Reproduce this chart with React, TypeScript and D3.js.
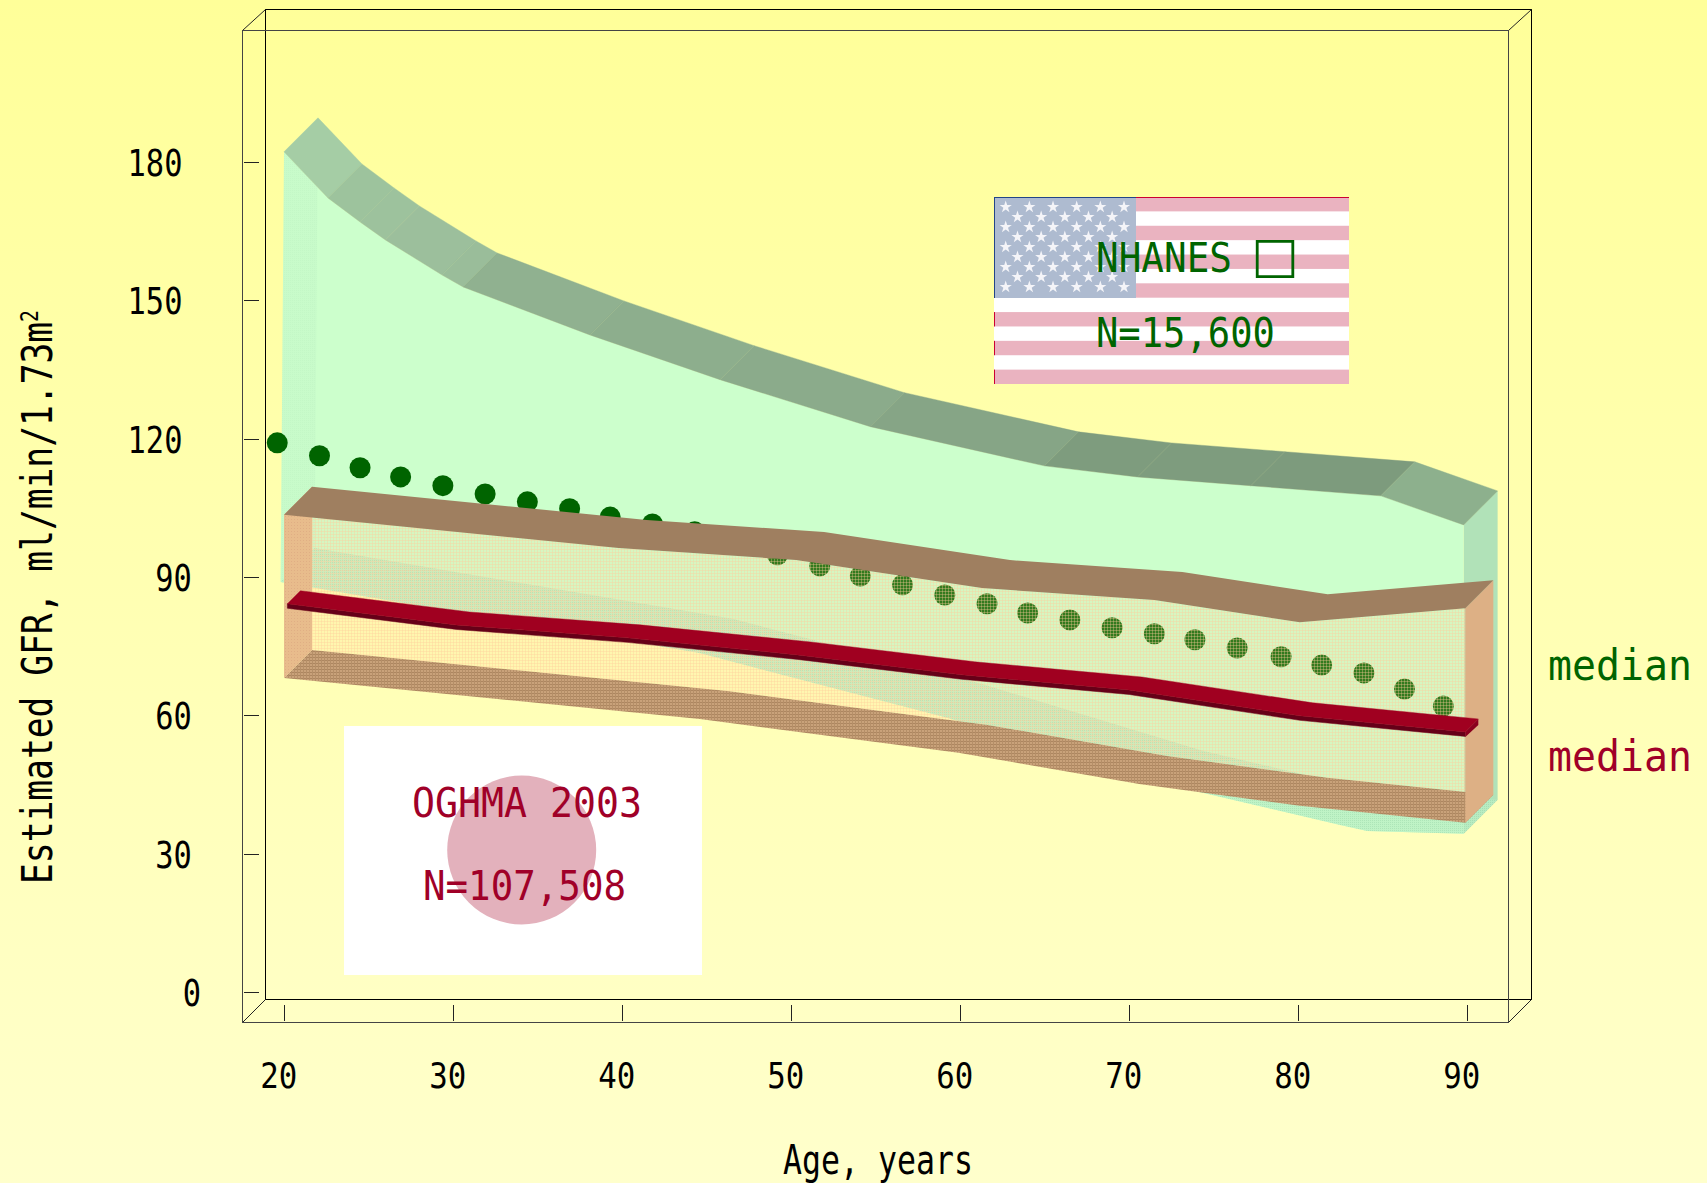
import React from 'react';
import * as d3 from 'd3';

// ---- data (age in years, eGFR in ml/min/1.73m2) ----
const xTicks = [20, 30, 40, 50, 60, 70, 80, 90];
const yTicks = [0, 30, 60, 90, 120, 150, 180];

const nhanesUpperAge = [20, 22.6, 24.5, 26, 29.35, 30.6, 38.1, 45.8, 54.7, 65, 70.5, 77.2, 84.9, 89.8];
const nhanesUpperGfr = [182.2, 172.2, 167, 163.1, 155.5, 152.9, 142.5, 132.8, 122.6, 114.1, 111.7, 109.8, 107.6, 101.3];
const nhanesLowerAge = [19.8, 44.6, 59.3, 72.4, 82.5, 84.1, 89.8];
const nhanesLowerGfr = [88.9, 73.5, 59.4, 44.9, 36.2, 34.9, 34.3];

const oghmaUpperAge = [20, 39.8, 50.3, 61.3, 71.5, 80.1, 89.9];
const oghmaUpperGfr = [103.5, 96.3, 93.7, 87.6, 85, 80.2, 83.2];
const oghmaLowerAge = [20, 44.6, 59.9, 70.6, 80.1, 89.9];
const oghmaLowerGfr = [68.1, 59.2, 51.9, 45.1, 40.4, 36.7];

const oghmaMedianAge = [20.2, 30.2, 40.3, 50.4, 60.1, 70, 80.1, 89.9];
const oghmaMedianGfr = [84.2, 79.6, 76.8, 73.1, 68.8, 65.5, 59.9, 56.4];

const nhanesMedianAge = [19.6, 22.1, 24.5, 26.9, 29.4, 31.9, 34.4, 36.9, 39.3, 41.8, 44.3, 46.8, 49.2, 51.7, 54.1, 56.6, 59.1, 61.6, 64, 66.5, 69, 71.5, 73.9, 76.4, 79, 81.4, 83.9, 86.3, 88.6];
const nhanesMedianGfr = [119.1, 116.3, 113.7, 111.7, 109.8, 108, 106.3, 104.8, 103, 101.5, 99.8, 97.2, 94.8, 92.4, 90.2, 88.3, 86.1, 84.2, 82.2, 80.7, 79, 77.7, 76.4, 74.6, 72.7, 70.9, 69.2, 65.7, 62];

// ---- styles ----
const greenRibbon = ['#A5CDA5', '#9DC39D', '#9DC29D', '#9CBF9C', '#9ABD9A', '#90B190', '#8DAE8D', '#8BAB8B', '#86A586', '#7E9C7E', '#7E9C7E', '#7D9B7D', '#8DB08D'];
const FONT = '"DejaVu Sans Mono", monospace';
const GREEN = '#006400';
const RED = '#A00028';

const x = d3.scaleLinear().domain([20, 90]).range([284, 1467]);
const y = d3.scaleLinear().domain([0, 180]).range([992, 162]);

type P = [number, number];
const pts = (ages: number[], vals: number[], dx = 0, dy = 0): P[] => ages.map((a, i) => [x(a) + dx, y(vals[i]) + dy]);
const shape = d3.line<P>().x(p => p[0]).y(p => p[1]);
const poly = (...parts: P[][]) => (shape(parts.flat()) as string) + 'Z';
const rev = (p: P[]) => [...p].reverse();
const shift = (p: P[], dx: number, dy: number): P[] => p.map(q => [q[0] + dx, q[1] + dy]);

function T(props: { x: number; y: number; w: number; size: number; fill?: string; children: React.ReactNode; transform?: string }) {
  const { x: tx, y: ty, w, size, fill = '#000', children, transform } = props;
  return (
    <text x={tx} y={ty} fontSize={size} fontFamily={FONT} fill={fill} textLength={w} lengthAdjust="spacingAndGlyphs" transform={transform}>
      {children}
    </text>
  );
}

const G_D = 34;
const B_D = 28;
const R_D = 13;

export default function App() {
  const gUp = pts(nhanesUpperAge, nhanesUpperGfr);
  const gLo = pts(nhanesLowerAge, nhanesLowerGfr);
  const bUp = pts(oghmaUpperAge, oghmaUpperGfr);
  const bLo = pts(oghmaLowerAge, oghmaLowerGfr);
  const rTop = pts(oghmaMedianAge, oghmaMedianGfr);

  const gF0 = gUp[0], gFn = gUp[gUp.length - 1], gL0 = gLo[0], gLn = gLo[gLo.length - 1];
  const bF0 = bUp[0], bFn = bUp[bUp.length - 1], bL0 = bLo[0], bLn = bLo[bLo.length - 1];
  const rEnd = rTop[rTop.length - 1];

  const stripeH = 187 / 13;
  const star = d3.symbol(d3.symbolStar, 46)() as string;
  const starPts: P[] = [];
  for (let r = 0; r < 9; r++) {
    const n = r % 2 === 0 ? 6 : 5;
    for (let c = 0; c < n; c++) starPts.push([1005.7 + c * 23.66 + (r % 2 ? 11.8 : 0), 207 + r * 10]);
  }

  return (
    <svg width={1707} height={1183} viewBox="0 0 1707 1183" style={{ position: 'absolute', left: 0, top: 0, display: 'block' }}>
      <defs>
        <linearGradient id="bg" x1="0" y1="0" x2="0" y2="1">
          <stop offset="0" stopColor="#FFFF99" />
          <stop offset="1" stopColor="#FFFFCC" />
        </linearGradient>
        <pattern id="faceHatch" width="3" height="3" patternUnits="userSpaceOnUse">
          <rect width="3" height="3" fill="#FFD098" fillOpacity="0.2" />
          <rect width="3" height="1" fill="#FFCC98" fillOpacity="0.35" />
          <rect width="1" height="3" fill="#FFCC98" fillOpacity="0.35" />
        </pattern>
        <pattern id="floorHatch" width="3" height="3" patternUnits="userSpaceOnUse">
          <rect width="3" height="3" fill="#C9A27A" />
          <rect width="3" height="1" fill="#AD8660" />
          <rect width="1" height="3" fill="#B58F68" />
        </pattern>
        <pattern id="sideHatch" width="3" height="3" patternUnits="userSpaceOnUse">
          <rect width="3" height="3" fill="#E8BC8C" />
          <rect width="1" height="1" fill="#E0AE84" />
        </pattern>
        <pattern id="stipple" width="2" height="2" patternUnits="userSpaceOnUse">
          <rect width="2" height="2" fill="#BAEFC4" />
          <rect width="1" height="1" fill="#A3DCB1" />
        </pattern>
      </defs>
      <rect width={1707} height={1183} fill="url(#bg)" />

      {/* plot box */}
      <g fill="none">
        <rect x={265.5} y={9.5} width={1266} height={990} stroke="#000" />
        <path d="M242.5,30.5L265.5,9.5M1508.5,30.5L1531.5,9.5M242.5,1022.5L265.5,999.5M1508.5,1022.5L1531.5,999.5" stroke="#222" />
        <rect x={242.5} y={30.5} width={1266} height={992} stroke="#444" />
      </g>
      {yTicks.map(t => (
        <line key={t} x1={244} x2={259} y1={Math.round(y(t)) + 0.5} y2={Math.round(y(t)) + 0.5} stroke="#222" />
      ))}
      {xTicks.map(t => (
        <line key={t} x1={Math.round(x(t)) + 0.5} x2={Math.round(x(t)) + 0.5} y1={1005} y2={1021} stroke="#222" />
      ))}

      {/* NHANES band */}
      <path d={poly([gFn, [gFn[0] + G_D, gFn[1] - G_D], [gLn[0] + G_D, gLn[1] - G_D], gLn])} fill="#B1E2B8" />
      <path d={poly(gUp, rev(gLo))} fill="#CCFFCC" />
      <path d={poly([gF0, [gF0[0] + G_D, gF0[1] - G_D], [gL0[0] + G_D, gL0[1] - G_D], gL0])} fill="url(#stipple)" fillOpacity={0.22} />
      <path d={poly(gLo, rev(shift(gLo, G_D, -G_D)))} fill="url(#stipple)" fillOpacity={0.75} />
      {gUp.slice(0, -1).map((p, i) => (
        <path key={i} d={poly([p, gUp[i + 1]], [[gUp[i + 1][0] + G_D, gUp[i + 1][1] - G_D], [p[0] + G_D, p[1] - G_D]])} fill={greenRibbon[i]} stroke={greenRibbon[i]} strokeWidth={0.4} />
      ))}

      {/* NHANES median dots */}
      {nhanesMedianAge.map((a, i) => (
        <circle key={i} cx={x(a)} cy={y(nhanesMedianGfr[i])} r={10.5} fill={GREEN} />
      ))}

      {/* OGHMA band */}
      <path d={poly(bLo, rev(shift(bLo, B_D, -B_D)))} fill="url(#floorHatch)" />
      <path d={poly([[bF0[0] + B_D, bF0[1] - B_D]], bUp.slice(1), rev(shift(bLo, B_D, -B_D)))} fill="url(#faceHatch)" />
      <path d={poly([bF0, [bF0[0] + B_D, bF0[1] - B_D], [bL0[0] + B_D, bL0[1] - B_D], bL0])} fill="url(#sideHatch)" />
      <path d={poly([bFn, [bFn[0] + B_D, bFn[1] - B_D], [bLn[0] + B_D, bLn[1] - B_D], bLn])} fill="#DDB085" />
      <path d={poly(bUp, rev(shift(bUp, B_D, -B_D)))} fill="#9F7F60" />

      {/* OGHMA median ribbon */}
      <path d={poly(rTop, rev(shift(rTop, 0, 4.5)))} fill="#660018" stroke="#660018" strokeWidth={0.5} />
      <path d={poly(rTop, rev(shift(rTop, R_D, -R_D)))} fill="#A00020" stroke="#A00020" strokeWidth={0.4} />
      <path d={poly([rEnd, [rEnd[0] + R_D, rEnd[1] - R_D], [rEnd[0] + R_D, rEnd[1] - R_D + 6], [rEnd[0], rEnd[1] + 5]])} fill="#8A001E" />

      {/* flag legend */}
      <g>
        <rect x={994} y={197} width={355} height={187} fill="#fff" />
        {d3.range(0, 13, 2).map(i => (
          <rect key={i} x={994} y={197 + i * stripeH} width={355} height={stripeH} fill="#EAB3C0" />
        ))}
        <rect x={994} y={197} width={142} height={101} fill="#AEBBD0" />
        {starPts.map((p, i) => (
          <path key={i} d={star} transform={`translate(${p[0]},${p[1]})`} fill="#F4F4F8" />
        ))}
        <path d="M994,197.5H1136" stroke="#224488" />
        <path d="M1136,197.5H1349" stroke="#CC0033" />
        <path d="M994.5,197V298" stroke="#224488" />
        {d3.range(0, 13, 2).map(i => (
          <path key={i} d={`M994.5,${Math.max(298, 197 + i * stripeH)}V${197 + (i + 1) * stripeH}`} stroke={197 + (i + 1) * stripeH > 298 ? '#CC0033' : 'none'} />
        ))}
        <T x={1096} y={272} w={136} size={41} fill={GREEN}>NHANES</T>
        <text x={1275} y={272} textAnchor="middle" fontSize={50} fontFamily='"DejaVu Sans", sans-serif' fill={GREEN}>□</text>
        <T x={1096} y={347} w={179} size={41} fill={GREEN}>N=15,600</T>
      </g>

      {/* circle legend */}
      <rect x={344} y={726} width={358} height={249} fill="#fff" />
      <circle cx={521.7} cy={850} r={74.5} fill="#E3B1BC" />
      <T x={412} y={817} w={230} size={41} fill={RED}>OGHMA 2003</T>
      <T x={423} y={900} w={203} size={41} fill={RED}>N=107,508</T>

      {/* median labels */}
      <T x={1548} y={680} w={144} size={43} fill={GREEN}>median</T>
      <T x={1548} y={771} w={144} size={43} fill={RED}>median</T>

      {/* tick labels */}
      {yTicks.map(t => {
        const s = String(t);
        const w = 18.3 * s.length;
        const cx = 192 - 18.5 * (s.length - 1);
        return <T key={t} x={cx - w / 2} y={y(t) + 14} w={w} size={37}>{s}</T>;
      })}
      {xTicks.map(t => (
        <T key={t} x={x(t) - 5.3 - 18.5} y={1088} w={37} size={36}>{t}</T>
      ))}

      {/* axis titles */}
      <T x={783} y={1174} w={190} size={41}>Age, years</T>
      <T x={0} y={0} w={574} size={42} transform="translate(52,884) rotate(-90)">
        Estimated GFR, ml/min/1.73m<tspan dy={-14} fontSize={24}>2</tspan>
      </T>
    </svg>
  );
}
